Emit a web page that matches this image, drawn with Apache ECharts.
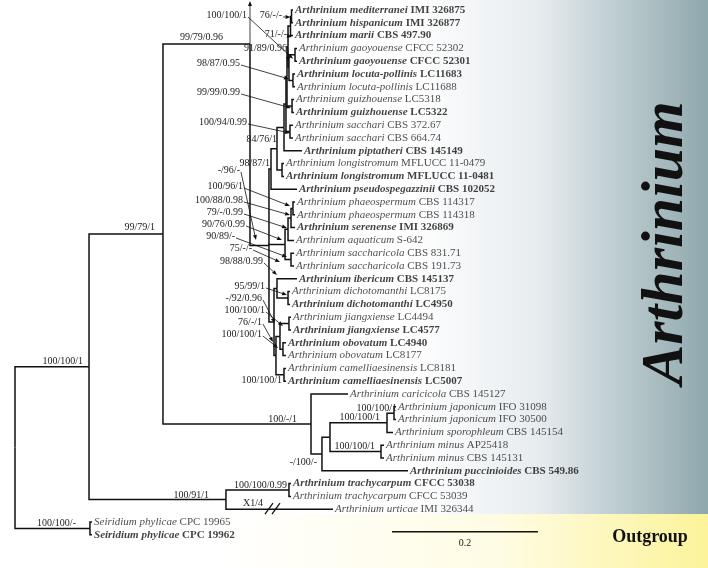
<!DOCTYPE html>
<html><head><meta charset="utf-8">
<script src="https://cdn.jsdelivr.net/npm/echarts@6/dist/echarts.min.js"></script>
<style>html,body{margin:0;padding:0;background:#fff}#c{width:708px;height:568px}</style>
</head><body><div id="c"></div>
<script>
// ---------- DATA ----------
const taxa = ['Arthrinium mediterranei','Arthrinium hispanicum','Arthrinium marii','Arthrinium gaoyouense','Arthrinium gaoyouense','Arthrinium locuta-pollinis','Arthrinium locuta-pollinis','Arthrinium guizhouense','Arthrinium guizhouense','Arthrinium sacchari','Arthrinium sacchari','Arthrinium piptatheri','Arthrinium longistromum','Arthrinium longistromum','Arthrinium pseudospegazzinii','Arthrinium phaeospermum','Arthrinium phaeospermum','Arthrinium serenense','Arthrinium aquaticum','Arthrinium saccharicola','Arthrinium saccharicola','Arthrinium ibericum','Arthrinium dichotomanthi','Arthrinium dichotomanthi','Arthrinium jiangxiense','Arthrinium jiangxiense','Arthrinium obovatum','Arthrinium obovatum','Arthrinium camelliaesinensis','Arthrinium camelliaesinensis','Arthrinium caricicola','Arthrinium japonicum','Arthrinium japonicum','Arthrinium sporophleum','Arthrinium minus','Arthrinium minus','Arthrinium puccinioides','Arthrinium trachycarpum','Arthrinium trachycarpum','Arthrinium urticae','Seiridium phylicae','Seiridium phylicae'];
const strains = ['IMI 326875','IMI 326877','CBS 497.90','CFCC 52302','CFCC 52301','LC11683','LC11688','LC5318','LC5322','CBS 372.67','CBS 664.74','CBS 145149','MFLUCC 11-0479','MFLUCC 11-0481','CBS 102052','CBS 114317','CBS 114318','IMI 326869','S-642','CBS 831.71','CBS 191.73','CBS 145137','LC8175','LC4950','LC4494','LC4577','LC4940','LC8177','LC8181','LC5007','CBS 145127','IFO 31098','IFO 30500','CBS 145154','AP25418','CBS 145131','CBS 549.86','CFCC 53038','CFCC 53039','IMI 326344','CPC 19965','CPC 19962'];
const typeMaterial = [1,1,1,0,1,1,0,0,1,0,0,1,0,1,1,0,0,1,0,0,0,1,0,1,0,1,1,0,0,1,0,0,0,0,0,0,1,1,0,0,0,1];
// cumulative branch length (substitutions/site) from the root to each tip
const tipDepth = [0.3808,0.3808,0.3808,0.3863,0.3863,0.3836,0.3836,0.3822,0.3822,0.3808,0.3808,0.3932,0.3685,0.3685,0.3863,0.3836,0.3836,0.3836,0.3822,0.3822,0.3822,0.3863,0.3767,0.3767,0.3781,0.3781,0.3712,0.3712,0.3712,0.3712,0.4562,0.5219,0.5219,0.5178,0.5055,0.5055,0.5384,0.3781,0.3781,0.4356,0.1055,0.1055];
// internal nodes: id, depth, children (numbers = tips)
const nodeIds = ['root','OUT','ING','Y','TR','A','U','V','W','X','JA','MI','B','C','D','E','LO','G','H','SA','J','GU','K','Mp','LP','GA','N','O','P1','P2','P3','PH','SC','Q','R','DI','S','T','JI','OB','CA'];
const nodeDepth = [0,0.1027,0.1014,0.2890,0.3753,0.2027,0.4055,0.4205,0.4315,0.5096,0.5192,0.5014,0.3219,0.3479,0.3507,0.3589,0.3658,0.3685,0.3712,0.3767,0.3726,0.3795,0.3740,0.3753,0.3808,0.3836,0.3774,0.3788,0.3699,0.3740,0.3781,0.3808,0.3781,0.3548,0.3589,0.3740,0.3575,0.3630,0.3753,0.3671,0.3685];
const nodeChildren = [['ING','OUT'],[40,41],['A','Y'],['TR',39],[37,38],['B','U'],[30,'V'],['W',36],['X','MI'],['JA',33],[31,32],[34,35],['C'],['D','P1','Q'],['E',14],['G','LO'],[12,13],['H',11],['J','SA'],[9,10],['K','GU'],[7,8],['N','Mp'],['GA','LP'],[5,6],[3,4],['O',2],[0,1],['P2','SC'],['P3',18],['PH',17],[15,16],[19,20],['R','S'],[21,'DI'],[22,23],['T','CA'],['JI','OB'],[24,25],[26,27],[28,29]];
const nodeRowOverride = {B: 2.656};
// support values (ML/MP/PP)
const supportNode = ['GA','O','N','Mp','LP','GU','SA','E','D','C','PH','P3','P2','P1','SC','P1','R','DI','Q','JI','T','OB','CA','B','A','ING','OUT','U','V','X','JA','MI','Y','TR','B'];
const supportText = ['100/100/1','76/-/-','71/-/-','91/89/0.96','98/87/0.95','99/99/0.99','100/94/0.99','84/76/1','98/87/1','-/96/-','100/96/1','100/88/0.98','79/-/0.99','90/76/0.99','90/89/-','75/-/-','98/88/0.99','95/99/1','-/92/0.96','100/100/1','76/-/1','100/100/1','100/100/1','99/79/0.96','99/79/1','100/100/1','100/100/-','100/-/1','-/100/-','100/100/1','100/100/1','100/100/1','100/91/1','100/100/0.99',''];
const scaleBarLength = 0.2;
const scaleBarLabel = '0.2';
const brokenBranchTip = 39, brokenBranchNode = 'Y', brokenBranchText = 'X1/4';
const cladeLabel = 'Arthrinium', outgroupLabel = 'Outgroup';

// ---------- LAYOUT (px offsets, not data) ----------
// [dx, dy, arrow, targetDx, targetDy]
const supportLayout = [
 [-48,-39.8,1,-2,4],[-9.5,-1.4,1,-1,0.5],[-3.5,8,1,1.5,11],[-2,-19.6,1,-1,-5.6],[-53,-17.4,1,-4,-1.4],
 [-52,-14,1,-1,2],[-43,-9.6,1,0,1.4],[0,-9.7,0],[-1,-6,0],[-29,-75.5,1,-13,-5.5],
 [-50,-22.4,1,-3,-2.4],[-48,-18,1,-1,-3],[-45,-17.2,1,-1,-1.2],[-40,-20.4,1,-3,-4.4],[-56,-23.6,1,-4,-2.6],
 [-33,3.6,1,-5,17.6],[-14,-27.4,1,0,-13.4],[-23,-12,1,-1,-3],[-12,-24,1,1,1],[-24,-13.6,1,-6,2.4],
 [-18,-14.4,1,-7,5.6],[-21,-15.2,1,-5,-1.2],[-2,5.6,0],[-27,-7,0],[-8,-7,0],
 [-6,-5,0],[-14,-5.4,0],[-14,-5,0],[-5,8,0],[-7,-5.8,0],
 [3,-5.2,0],[-6,-5.6,0],[-17,-4.6,0],[-2,-5,0],[0,0,1,0,-43]
];
const scaleBarPos = [0.5164, 40.76];
const SERIF = '"Liberation Serif","Times New Roman",serif';

// ---------- build ----------
const idx = {}; nodeIds.forEach((id,i)=>idx[id]=i);
const rowCache = {};
function row(ref){
  if (typeof ref === 'number') return ref;
  if (rowCache[ref] !== undefined) return rowCache[ref];
  if (nodeRowOverride[ref] !== undefined) return rowCache[ref] = nodeRowOverride[ref];
  const ch = nodeChildren[idx[ref]];
  return rowCache[ref] = (row(ch[0]) + row(ch[ch.length-1]))/2;
}
function depth(ref){ return typeof ref === 'number' ? tipDepth[ref] : nodeDepth[idx[ref]]; }
const edges = [];
nodeIds.forEach((id,i)=>{ nodeChildren[i].forEach(c=>{ edges.push([depth(id), row(id), depth(c), row(c)]); }); });
const leafData = taxa.map((t,i)=>[tipDepth[i], i]);
const supportData = supportNode.map(n=>[depth(n), row(n)]);

function arrowEls(sx,sy,ex,ey){
  const dx=ex-sx, dy=ey-sy, L=Math.hypot(dx,dy)||1, ux=dx/L, uy=dy/L;
  const hl=5, hw=2;
  const bx=ex-ux*hl, by=ey-uy*hl;
  return [
    {type:'line', shape:{x1:sx,y1:sy,x2:bx,y2:by}, style:{stroke:'#111', lineWidth:0.8}},
    {type:'polygon', shape:{points:[[ex,ey],[bx-uy*hw,by+ux*hw],[bx+uy*hw,by-ux*hw]]}, style:{fill:'#111'}}
  ];
}

const option = {
  animation:false,
  backgroundColor:'#ffffff',
  grid:{left:15, top:10, width:730, height:524.8, containLabel:false, outerBoundsMode:'none'},
  xAxis:{type:'value', min:0, max:1, show:false},
  yAxis:{type:'value', min:0, max:41, inverse:true, show:false},
  graphic:[
    {type:'rect', z:-100, silent:true, shape:{x:0,y:0,width:708,height:514},
     style:{fill:new echarts.graphic.LinearGradient(0,0,1,0,[{offset:0,color:'#ffffff'},{offset:0.58,color:'#ffffff'},{offset:0.76,color:'#e7ecef'},{offset:1,color:'#8ea8ad'}])}},
    {type:'rect', z:-100, silent:true, shape:{x:0,y:514,width:708,height:54},
     style:{fill:new echarts.graphic.LinearGradient(0,0,1,0,[{offset:0,color:'#ffffff'},{offset:0.3,color:'#ffffff'},{offset:0.7,color:'#fffce4'},{offset:1,color:'#fcf39a'}])}},
    {type:'text', z:10, x:666, y:243, rotation:Math.PI/2,
     style:{text:cladeLabel, font:'italic bold 60px '+SERIF, fill:'#111', align:'center', verticalAlign:'middle', textAlign:'center', textVerticalAlign:'middle'}},
    {type:'text', z:10, x:650, y:537,
     style:{text:outgroupLabel, font:'bold 18px '+SERIF, fill:'#111', align:'center', verticalAlign:'middle', textAlign:'center', textVerticalAlign:'middle'}}
  ],
  series:[
    {type:'custom', name:'branches', coordinateSystem:'cartesian2d', clip:false, silent:true,
     encode:{x:[0,2], y:[1,3]}, data:edges,
     renderItem(params, api){
       const p=api.coord([api.value(0),api.value(1)]);
       const m=api.coord([api.value(0),api.value(3)]);
       const c=api.coord([api.value(2),api.value(3)]);
       return {type:'polyline', shape:{points:[p,m,c]}, style:{stroke:'#111', lineWidth:1.5, fill:null}};
     }},
    {type:'scatter', name:'tips', data:leafData, symbolSize:1, itemStyle:{color:'rgba(0,0,0,0)'}, silent:true,
     label:{show:true, position:'right', distance:1.5, fontFamily:SERIF, fontSize:11, color:'#222',
       formatter:p=>{ const i=p.dataIndex; return typeMaterial[i] ? '{bi|'+taxa[i]+'}{bs| '+strains[i]+'}' : '{gi|'+taxa[i]+'}{gs| '+strains[i]+'}'; },
       rich:{
         gi:{fontFamily:SERIF, fontSize:11, fontStyle:'italic', color:'#222'},
         gs:{fontFamily:SERIF, fontSize:11, color:'#222'},
         bi:{fontFamily:SERIF, fontSize:11, fontStyle:'italic', fontWeight:'bold', color:'#111'},
         bs:{fontFamily:SERIF, fontSize:11, fontWeight:'bold', color:'#111'}
       }}},
    {type:'custom', name:'support', coordinateSystem:'cartesian2d', clip:false, silent:true,
     data:supportData,
     renderItem(params, api){
       const k=params.dataIndex, L=supportLayout[k], txt=supportText[k];
       const n=api.coord([api.value(0),api.value(1)]);
       const tx=n[0]+L[0], ty=n[1]+L[1];
       const ch=[];
       if (txt) ch.push({type:'text', x:tx, y:ty, style:{text:txt, font:'10px '+SERIF, fill:'#222', align:'right', verticalAlign:'middle', textAlign:'right', textVerticalAlign:'middle'}});
       if (L[2]) ch.push(...arrowEls(tx+(txt?1:0), ty+(txt?2:0), n[0]+L[3], n[1]+L[4]));
       return {type:'group', children:ch};
     }},
    {type:'custom', name:'broken', coordinateSystem:'cartesian2d', clip:false, silent:true,
     data:[[depth(brokenBranchNode), row(brokenBranchTip)]],
     renderItem(params, api){
       const n=api.coord([api.value(0),api.value(1)]);
       const ch=[{type:'text', x:n[0]+37, y:n[1]-6, style:{text:brokenBranchText, font:'10px '+SERIF, fill:'#222', align:'right', verticalAlign:'middle', textAlign:'right', textVerticalAlign:'middle'}}];
       [43,50].forEach(d=>ch.push({type:'line', shape:{x1:n[0]+d-4, y1:n[1]+5, x2:n[0]+d+4, y2:n[1]-6}, style:{stroke:'#111', lineWidth:1.3}}));
       return {type:'group', children:ch};
     }},
    {type:'custom', name:'scalebar', coordinateSystem:'cartesian2d', clip:false, silent:true,
     data:[[scaleBarPos[0], scaleBarPos[1], scaleBarPos[0]+scaleBarLength]],
     renderItem(params, api){
       const a=api.coord([api.value(0),api.value(1)]), b=api.coord([api.value(2),api.value(1)]);
       return {type:'group', children:[
         {type:'line', shape:{x1:a[0],y1:a[1],x2:b[0],y2:b[1]}, style:{stroke:'#111', lineWidth:1.5}},
         {type:'text', x:(a[0]+b[0])/2, y:a[1]+12, style:{text:scaleBarLabel, font:'10px '+SERIF, fill:'#222', align:'center', verticalAlign:'middle', textAlign:'center', textVerticalAlign:'middle'}}
       ]};
     }}
  ]
};
const chart = echarts.init(document.getElementById('c'));
chart.setOption(option);
</script></body></html>
